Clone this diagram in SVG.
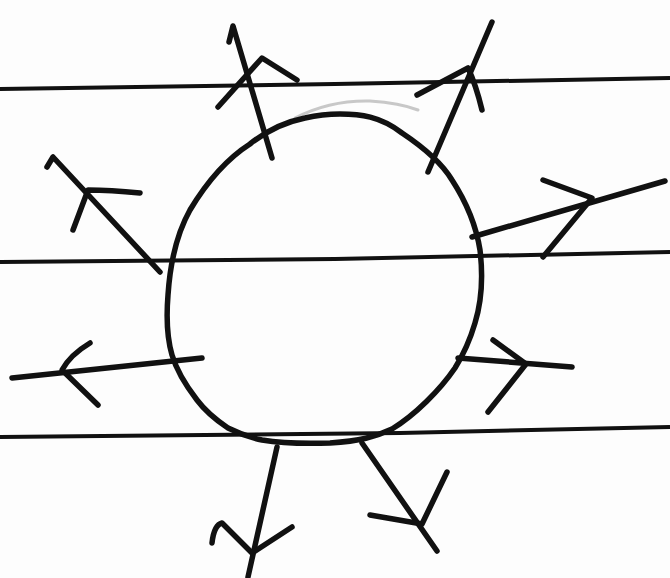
<svg xmlns="http://www.w3.org/2000/svg" width="670" height="578" viewBox="0 0 670 578">
<style>
.ink{fill:none;stroke:#111;stroke-width:5.5;stroke-linecap:round;stroke-linejoin:round}
.rule{fill:none;stroke:#111;stroke-width:4}
.faint{fill:none;stroke:#c8c8c8;stroke-width:3;stroke-linecap:round}
</style>
<rect width="670" height="578" fill="#fdfdfd"/>
<g id="paper-lines">
<path class="rule" d="M0,89 L335,84 L670,78"/>
<path class="rule" d="M0,262 L335,259 L670,252"/>
<path class="rule" d="M0,437 L400,433 L670,427"/>
</g>
<g id="circle">
<path class="faint" d="M295,118 Q330,100 370,101 Q400,103 418,110"/>
<path class="ink" d="M340,114 C360,114 380,116 402,133 C420,145 440,160 452,180 C465,200 476,225 480,250 C483,275 482,300 475,323 C470,340 465,352 455,368 C440,390 415,415 392,429 C375,437 360,441 330,443 C300,444 280,443 262,440 C248,437 238,433 228,428 C216,420 206,412 197,400 C187,387 177,372 172,355 C167,338 166,320 168,295 C170,265 176,235 190,210 C205,185 225,160 250,144 C265,132 285,122 305,118 C318,115 330,114 340,114 Z"/>
</g>
<g id="connectors">
<g id="arrow-top-left">
<path class="ink" d="M272,158 L233,26 L229,42"/>
<path class="ink" d="M218,107 L262,58 L297,80"/>
</g>
<g id="arrow-top-right">
<path class="ink" d="M428,172 L492,22"/>
<path class="ink" d="M417,95 L468,68 Q476,85 482,110"/>
</g>
<g id="arrow-right-upper">
<path class="ink" d="M472,237 L665,181"/>
<path class="ink" d="M543,180 L592,198 L543,257"/>
</g>
<g id="arrow-right">
<path class="ink" d="M458,358 L572,367"/>
<path class="ink" d="M493,340 L526,364 L488,412"/>
</g>
<g id="arrow-bottom-right">
<path class="ink" d="M362,443 L437,551"/>
<path class="ink" d="M370,515 L422,524 L447,472"/>
</g>
<g id="arrow-bottom">
<path class="ink" d="M277,447 L248,577"/>
<path class="ink" d="M212,543 Q214,525 222,523 L252,553 L292,527"/>
</g>
<g id="arrow-left">
<path class="ink" d="M202,358 L12,378"/>
<path class="ink" d="M90,343 Q70,355 62,370 L98,405"/>
</g>
<g id="arrow-upper-left">
<path class="ink" d="M160,272 L53,157 L47,167"/>
<path class="ink" d="M73,230 L88,190 Q110,190 140,193"/>
</g>
</g>
</svg>
